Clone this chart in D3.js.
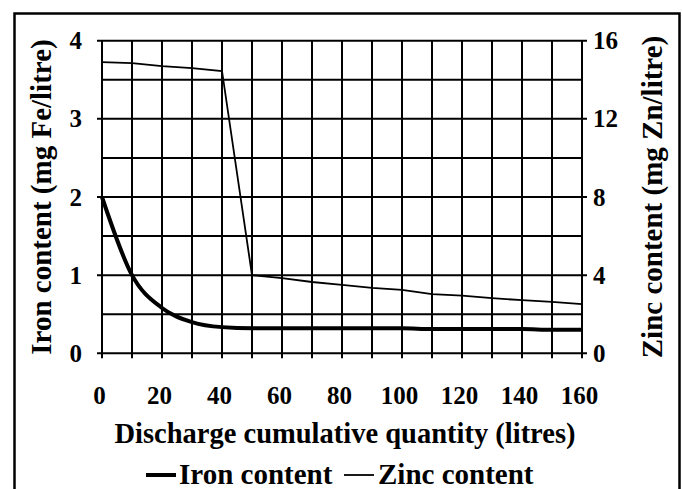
<!DOCTYPE html>
<html>
<head>
<meta charset="utf-8">
<script src="https://cdnjs.cloudflare.com/ajax/libs/d3/7.8.5/d3.min.js"></script>
<style>
    body { margin: 0; background: #fff; }
    svg { display: block; }
    text { font-family: "Liberation Serif", "Times New Roman", serif; font-weight: bold; fill: #000; }
</style>
</head>
<body>
<div id="chart"></div>
<script>
// data
var litres = [0, 10, 20, 30, 40, 50, 60, 70, 80, 90, 100, 110, 120, 130, 140, 150, 160];
var ironContent = [2.0, 1.0, 0.58, 0.40, 0.335, 0.32, 0.32, 0.32, 0.32, 0.32, 0.32, 0.31, 0.31, 0.31, 0.31, 0.30, 0.30];
var zincContent = [14.9, 14.85, 14.7, 14.6, 14.45, 4.0, 3.85, 3.65, 3.5, 3.35, 3.25, 3.03, 2.95, 2.82, 2.72, 2.63, 2.52];
var xTicks = [0, 20, 40, 60, 80, 100, 120, 140, 160];
var ironTicks = [0, 1, 2, 3, 4];
var zincTicks = [0, 4, 8, 12, 16];

var width = 682, height = 489;
var margin = { top: 40.7, right: 100, bottom: 135.7, left: 102 };
var w = width - margin.left - margin.right,
    h = height - margin.top - margin.bottom;

var svg = d3.select("#chart")
    .append("svg")
    .attr("width", width)
    .attr("height", height);

// outer frame (bottom edge is cut off in the original)
svg.append("rect")
    .attr("x", 14.5).attr("y", 13.5)
    .attr("width", 665).attr("height", 520)
    .attr("fill", "none")
    .attr("stroke", "#000")
    .attr("stroke-width", 2.5);

var g = svg.append("g")
    .attr("transform", "translate(" + margin.left + "," + margin.top + ")");

var x = d3.scaleLinear().domain([0, 160]).range([0, w]);
var yFe = d3.scaleLinear().domain([0, 4]).range([h, 0]);
var yZn = d3.scaleLinear().domain([0, 16]).range([h, 0]);

// grid: every 10 litres, every 0.5 mg Fe
g.selectAll(".vgrid")
    .data(d3.range(0, 161, 10))
    .enter().append("line")
    .attr("class", "vgrid")
    .attr("x1", function (d) { return x(d); })
    .attr("x2", function (d) { return x(d); })
    .attr("y1", 0)
    .attr("y2", h + 5)
    .attr("stroke", "#000")
    .attr("stroke-width", 2);

g.selectAll(".hgrid")
    .data(d3.range(0, 4.01, 0.5))
    .enter().append("line")
    .attr("class", "hgrid")
    .attr("x1", function (d) { return d % 1 === 0 ? -5 : 0; })
    .attr("x2", function (d) { return d % 1 === 0 ? w + 5 : w; })
    .attr("y1", function (d) { return yFe(d); })
    .attr("y2", function (d) { return yFe(d); })
    .attr("stroke", "#000")
    .attr("stroke-width", 2);

// axes labels (axis lines themselves come from the grid above)
var axisL = g.append("g")
    .call(d3.axisLeft(yFe).tickValues(ironTicks).tickSize(0).tickPadding(20).tickFormat(d3.format("d")));
var axisR = g.append("g")
    .attr("transform", "translate(" + w + ",0)")
    .call(d3.axisRight(yZn).tickValues(zincTicks).tickSize(0).tickPadding(11).tickFormat(d3.format("d")));
var axisB = g.append("g")
    .attr("transform", "translate(-3," + h + ")")
    .call(d3.axisBottom(x).tickValues(xTicks).tickSize(0).tickPadding(51).tickFormat(d3.format("d")));

[axisL, axisR, axisB].forEach(function (a) {
    a.select(".domain").remove();
    a.selectAll("text")
        .style("font-family", "'Liberation Serif', serif")
        .style("font-weight", "bold")
        .style("font-size", "25px")
        .attr("fill", "#000");
});
axisB.selectAll("text").attr("dy", 0);

// lines
var zincLine = d3.line()
    .x(function (d, i) { return x(litres[i]); })
    .y(function (d) { return yZn(d); });

var ironLine = d3.line()
    .curve(d3.curveMonotoneX)
    .x(function (d, i) { return x(litres[i]); })
    .y(function (d) { return yFe(d); });

g.append("path")
    .attr("d", zincLine(zincContent))
    .attr("fill", "none")
    .attr("stroke", "#000")
    .attr("stroke-width", 1.8);

g.append("path")
    .attr("d", ironLine(ironContent))
    .attr("fill", "none")
    .attr("stroke", "#000")
    .attr("stroke-width", 4)
    .attr("stroke-linejoin", "round");

// axis titles
svg.append("text")
    .attr("x", 345)
    .attr("y", 443)
    .attr("text-anchor", "middle")
    .style("font-size", "28.5px")
    .text("Discharge cumulative quantity (litres)");

svg.append("text")
    .attr("transform", "translate(51," + (margin.top + h / 2) + ") rotate(-90)")
    .attr("text-anchor", "middle")
    .style("font-size", "29px")
    .text("Iron content (mg Fe/litre)");

svg.append("text")
    .attr("transform", "translate(662," + (margin.top + h / 2) + ") rotate(-90)")
    .attr("text-anchor", "middle")
    .style("font-size", "29px")
    .text("Zinc content (mg Zn/litre)");

// legend
var legend = svg.append("g").attr("transform", "translate(0,484)");
legend.append("line")
    .attr("x1", 146).attr("x2", 176)
    .attr("y1", -9).attr("y2", -9)
    .attr("stroke", "#000").attr("stroke-width", 4);
legend.append("text")
    .attr("x", 179).attr("y", 0)
    .style("font-size", "29px")
    .text("Iron content");
legend.append("line")
    .attr("x1", 344).attr("x2", 374)
    .attr("y1", -9).attr("y2", -9)
    .attr("stroke", "#000").attr("stroke-width", 1.8);
legend.append("text")
    .attr("x", 378).attr("y", 0)
    .style("font-size", "29px")
    .text("Zinc content");
</script>
</body>
</html>
